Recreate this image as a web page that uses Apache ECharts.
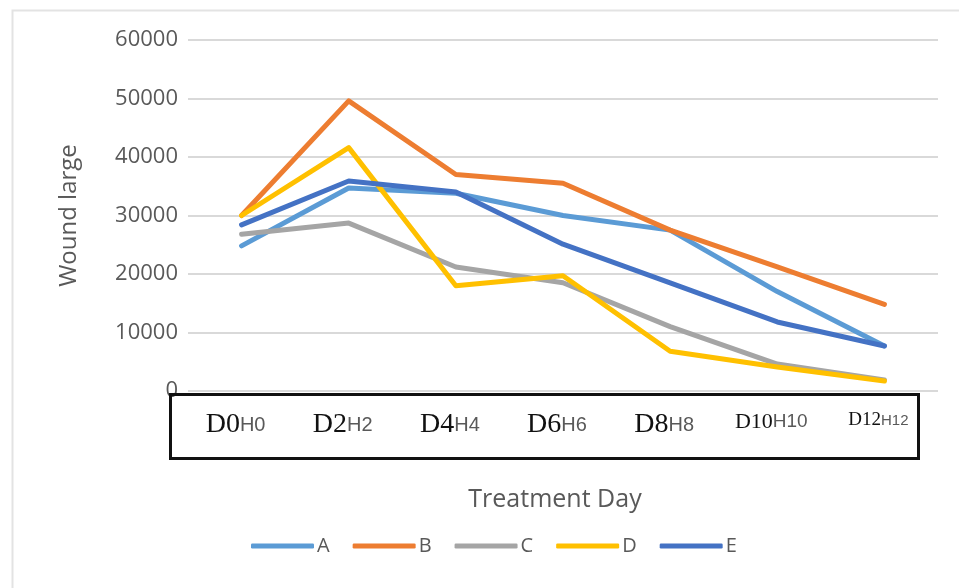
<!DOCTYPE html>
<html>
<head>
<meta charset="utf-8">
<script src="https://cdn.jsdelivr.net/npm/echarts@6/dist/echarts.min.js"></script>
<style>
  html, body { margin: 0; padding: 0; background: #fff; }
  #chart-container { width: 959px; height: 588px; }
</style>
</head>
<body>
<div id="chart-container"></div>
<script>
var dom = document.getElementById("chart-container");
var myChart = echarts.init(dom, null, { renderer: "canvas" });

// category parts: day (serif) + hour (sans)
const days = ["D0", "D2", "D4", "D6", "D8", "D10", "D12"];
const hours = ["H0", "H2", "H4", "H6", "H8", "H10", "H12"];
const categories = days.map((d, i) => d + hours[i]);

const seriesA = [24800, 34700, 33800, 30000, 27500, 17000, 7700];
const seriesB = [30000, 49600, 37000, 35500, 27500, 21200, 14800];
const seriesC = [26800, 28700, 21200, 18500, 11000, 4600, 1900];
const seriesD = [30000, 41600, 18000, 19700, 6800, 4100, 1700];
const seriesE = [28400, 35900, 34000, 25100, 18500, 11800, 7700];

const names = ["A", "B", "C", "D", "E"];
const colors = ["#5B9BD5", "#ED7D31", "#A5A5A5", "#FFC000", "#4472C4"];
const values = [seriesA, seriesB, seriesC, seriesD, seriesE];

const textGray = "#595959";
const sans = "Open Sans, Liberation Sans, sans-serif";
const serif = "Liberation Serif, serif";

var option = {
  animation: false,
  backgroundColor: "#fff",
  color: colors,
  grid: {
    left: 188,
    right: 21,
    top: 40,
    bottom: 197,
  },
  legend: {
    bottom: 27,
    left: 246,
    icon: "roundRect",
    itemWidth: 63,
    itemHeight: 5,
    itemGap: 23,
    textStyle: {
      fontFamily: sans,
      fontSize: 20,
      color: textGray,
      padding: [0, 0, 0, -2],
    },
    data: names,
  },
  xAxis: {
    type: "category",
    data: categories,
    boundaryGap: true,
    name: "Treatment Day",
    nameLocation: "middle",
    nameGap: 96,
    nameTextStyle: {
      fontFamily: sans,
      fontSize: 25,
      color: textGray,
      padding: [0, 16, 0, 0],
    },
    axisLine: { show: false },
    axisTick: { show: false },
    axisLabel: {
      margin: 20,
      interval: 0,
      padding: [0, 12, 0, 0],
      formatter: function (value, idx) {
        const big = idx === 6 ? "d2" : idx === 5 ? "d1" : "d";
        const small = idx === 6 ? "h2" : idx === 5 ? "h1" : "h";
        return "{" + big + "|" + days[idx] + "}{" + small + "|" + hours[idx] + "}";
      },
      rich: {
        d: { fontFamily: serif, fontSize: 28, color: "#111" },
        d1: { fontFamily: serif, fontSize: 22, color: "#111" },
        d2: { fontFamily: serif, fontSize: 19, color: "#111" },
        h: { fontFamily: "Liberation Sans, sans-serif", fontSize: 20, color: textGray },
        h1: { fontFamily: "Liberation Sans, sans-serif", fontSize: 19, color: textGray },
        h2: { fontFamily: "Liberation Sans, sans-serif", fontSize: 15, color: textGray },
      },
    },
  },
  yAxis: {
    type: "value",
    min: 0,
    max: 60000,
    interval: 10000,
    name: "Wound large",
    nameLocation: "middle",
    nameGap: 107,
    nameTextStyle: {
      fontFamily: sans,
      fontSize: 24,
      color: textGray,
    },
    axisLine: { show: false },
    axisTick: { show: false },
    axisLabel: {
      margin: 10,
      fontFamily: sans,
      fontSize: 22,
      color: textGray,
      formatter: function (v) { return String(v); },
    },
    splitLine: { lineStyle: { color: "#d9d9d9", width: 2 } },
  },
  graphic: [
    {
      type: "rect",
      left: 10,
      top: 8,
      shape: { width: 1000, height: 600 },
      style: { fill: "none", stroke: "#e3e3e3", lineWidth: 2 },
      silent: true,
      z: -1,
    },
    {
      type: "rect",
      left: 168,
      top: 392,
      shape: { width: 748, height: 64 },
      style: { fill: "none", stroke: "#111", lineWidth: 3 },
      silent: true,
      z: 100,
    },
  ],
  series: names.map((n, i) => ({
    name: n,
    type: "line",
    data: values[i],
    showSymbol: false,
    symbol: "none",
    lineStyle: { width: 5, cap: "round", join: "round" },
  })),
};

myChart.setOption(option);
window.addEventListener("resize", myChart.resize);
</script>
</body>
</html>
